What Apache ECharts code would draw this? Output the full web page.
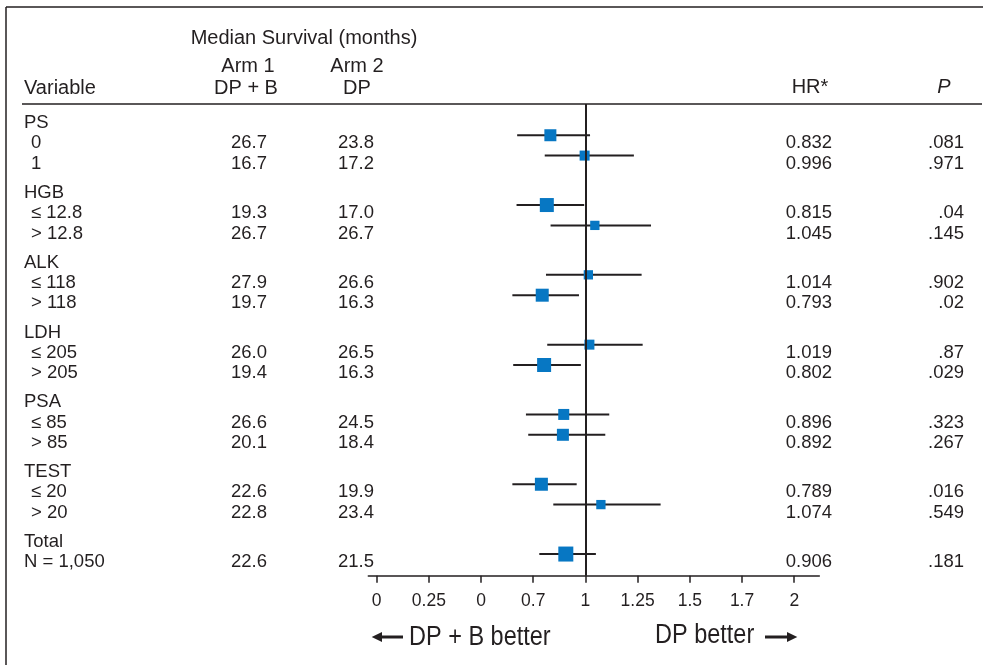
<!DOCTYPE html>
<html><head><meta charset="utf-8">
<script src="https://cdn.jsdelivr.net/npm/echarts@6/dist/echarts.min.js"></script>
<style>html,body{margin:0;padding:0;background:#fff}#c{width:983px;height:665px}</style>
</head><body><div id="c"></div>
<script>
// ---------------- data ----------------
const groupNames = ['PS', 'HGB', 'ALK', 'LDH', 'PSA', 'TEST', 'Total'];
const rowLabels = ['0', '1', '≤ 12.8', '> 12.8', '≤ 118', '> 118', '≤ 205', '> 205', '≤ 85', '> 85', '≤ 20', '> 20', 'N = 1,050'];
const rowGroup = [0, 0, 1, 1, 2, 2, 3, 3, 4, 4, 5, 5, 6];
const arm1 = [26.7, 16.7, 19.3, 26.7, 27.9, 19.7, 26.0, 19.4, 26.6, 20.1, 22.6, 22.8, 22.6];
const arm2 = [23.8, 17.2, 17.0, 26.7, 26.6, 16.3, 26.5, 16.3, 24.5, 18.4, 19.9, 23.4, 21.5];
const hr = [0.832, 0.996, 0.815, 1.045, 1.014, 0.793, 1.019, 0.802, 0.896, 0.892, 0.789, 1.074, 0.906];
const ciLow = [0.673, 0.805, 0.670, 0.833, 0.811, 0.650, 0.817, 0.654, 0.715, 0.726, 0.650, 0.846, 0.779];
const ciHigh = [1.022, 1.232, 0.994, 1.314, 1.269, 0.969, 1.274, 0.978, 1.114, 1.095, 0.958, 1.360, 1.050];
const pValues = ['.081', '.971', '.04', '.145', '.902', '.02', '.87', '.029', '.323', '.267', '.016', '.549', '.181'];
const weight = [12, 10, 14, 9.3, 9.3, 13, 10, 14, 11, 12, 13, 9.3, 15];
const tickValues = [0, 0.25, 0.5, 0.75, 1, 1.25, 1.5, 1.75, 2];
const tickLabels = ['0', '0.25', '0', '0.7', '1', '1.25', '1.5', '1.7', '2'];

// ---------------- layout ----------------
const INK = '#231f20';
const BLUE = '#0777c3';
const FONT = "'Liberation Sans', Arial, Helvetica, sans-serif";
const FS = 18.5;
const HFS = 20;
const PERIOD = 3.43;           // group pitch in row units
const Y_MIN = -0.835, Y_MAX = 22.344;
const GRID_TOP = 104, GRID_BOTTOM = 89.3;
const MARK_SHIFT = -0.3;
const TEXT_SHIFT = 0.1;

const subIndex = [];
rowGroup.forEach((g, i) => { subIndex.push(i > 0 && rowGroup[i - 1] === g ? 2 : 1); });
const rowPos = rowGroup.map((g, i) => g * PERIOD + subIndex[i]);

const texts = [];
groupNames.forEach((n, g) => texts.push({ x: 24, v: g * PERIOD, t: n, a: 'left' }));
rowLabels.forEach((l, i) => {
  const last = i === rowLabels.length - 1;
  texts.push({ x: last ? 24 : 31, v: rowPos[i], t: l, a: 'left' });
  texts.push({ x: 231, v: rowPos[i], t: arm1[i].toFixed(1), a: 'left' });
  texts.push({ x: 338, v: rowPos[i], t: arm2[i].toFixed(1), a: 'left' });
  texts.push({ x: 832, v: rowPos[i], t: hr[i].toFixed(3), a: 'right' });
  texts.push({ x: 964, v: rowPos[i], t: pValues[i], a: 'right' });
});

function txt(x, y, t, align, opts) {
  opts = opts || {};
  return Object.assign({
    type: 'text', x: x, y: y, silent: true,
    style: Object.assign({
      text: t, fill: INK, fontSize: HFS, fontFamily: FONT,
      align: align, verticalAlign: 'middle', textAlign: align, textVerticalAlign: 'middle'
    }, opts.style || {})
  }, opts.el || {});
}

const chart = echarts.init(document.getElementById('c'), null, { renderer: 'canvas' });
chart.setOption({
  animation: false,
  backgroundColor: '#fff',
  grid: [
    { left: 368.3, right: 163.7, top: GRID_TOP, bottom: GRID_BOTTOM },
    { left: 0, right: 0, top: GRID_TOP, bottom: GRID_BOTTOM }
  ],
  xAxis: [
    {
      type: 'value', gridIndex: 0, min: -0.04, max: 2.12, position: 'bottom',
      splitLine: { show: false },
      axisLine: { show: true, onZero: false, lineStyle: { color: INK, width: 1.5 } },
      axisTick: { show: true, customValues: tickValues, length: 7, lineStyle: { color: INK, width: 1.5 } },
      axisLabel: {
        show: true, customValues: tickValues, margin: 16.5, color: INK, fontSize: 17.5, fontFamily: FONT,
        formatter: v => tickLabels[tickValues.findIndex(t => Math.abs(t - v) < 1e-6)]
      }
    },
    { type: 'value', gridIndex: 1, min: 0, max: 983, show: false }
  ],
  yAxis: [
    { type: 'value', gridIndex: 0, inverse: true, min: Y_MIN, max: Y_MAX, show: false },
    { type: 'value', gridIndex: 1, inverse: true, min: Y_MIN, max: Y_MAX, show: false }
  ],
  series: [
    {
      type: 'custom', xAxisIndex: 0, yAxisIndex: 0, z: 2,
      data: hr.map((h, i) => [ciLow[i], rowPos[i] + MARK_SHIFT, ciHigh[i]]),
      renderItem: function (params, api) {
        const p1 = api.coord([api.value(0), api.value(1)]);
        const p2 = api.coord([api.value(2), api.value(1)]);
        return { type: 'line', shape: { x1: p1[0], y1: p1[1], x2: p2[0], y2: p2[1] }, style: { stroke: INK, lineWidth: 2 } };
      },
      markLine: {
        silent: true, symbol: 'none', label: { show: false },
        lineStyle: { color: INK, width: 2, type: 'solid' },
        data: [{ xAxis: 1 }]
      }
    },
    {
      type: 'scatter', xAxisIndex: 0, yAxisIndex: 0, z: 3,
      symbol: 'rect',
      data: hr.map((h, i) => [h, rowPos[i] + MARK_SHIFT, weight[i]]),
      symbolSize: d => d[2],
      itemStyle: { color: BLUE, opacity: 1 }
    },
    {
      type: 'custom', xAxisIndex: 1, yAxisIndex: 1, z: 4,
      data: texts.map((t, i) => [t.x, t.v + TEXT_SHIFT, i]),
      renderItem: function (params, api) {
        const t = texts[api.value(2)];
        const p = api.coord([api.value(0), api.value(1)]);
        return {
          type: 'text', x: p[0], y: p[1],
          style: { text: t.t, fill: INK, fontSize: FS, fontFamily: FONT, align: t.a, verticalAlign: 'middle', textAlign: t.a, textVerticalAlign: 'middle' }
        };
      }
    }
  ],
  graphic: [
    { type: 'line', shape: { x1: 6, y1: 7, x2: 983, y2: 7 }, style: { stroke: INK, lineWidth: 1.5 }, silent: true },
    { type: 'line', shape: { x1: 6, y1: 7, x2: 6, y2: 665 }, style: { stroke: INK, lineWidth: 1.5 }, silent: true },
    { type: 'line', shape: { x1: 22, y1: 104, x2: 982, y2: 104 }, style: { stroke: INK, lineWidth: 1.5 }, silent: true },
    txt(304, 38, 'Median Survival (months)', 'center'),
    txt(248, 66, 'Arm 1', 'center'),
    txt(246, 88, 'DP + B', 'center'),
    txt(357, 66, 'Arm 2', 'center'),
    txt(357, 88, 'DP', 'center'),
    txt(24, 88, 'Variable', 'left'),
    txt(810, 87, 'HR*', 'center'),
    txt(944, 87, 'P', 'center', { style: { fontStyle: 'italic' } }),
    // bottom direction labels
    { type: 'line', shape: { x1: 380, y1: 637, x2: 403, y2: 637 }, style: { stroke: INK, lineWidth: 3 }, silent: true },
    { type: 'polygon', shape: { points: [[371.7, 637], [382, 632], [382, 642]] }, style: { fill: INK }, silent: true },
    txt(409, 638, 'DP + B better', 'left', { style: { fontSize: 27 }, el: { scaleX: 0.87 } }),
    txt(655, 636, 'DP better', 'left', { style: { fontSize: 27 }, el: { scaleX: 0.87 } }),
    { type: 'line', shape: { x1: 765, y1: 637, x2: 788, y2: 637 }, style: { stroke: INK, lineWidth: 3 }, silent: true },
    { type: 'polygon', shape: { points: [[797.3, 637], [787, 632], [787, 642]] }, style: { fill: INK }, silent: true }
  ]
});
</script>
</body></html>
